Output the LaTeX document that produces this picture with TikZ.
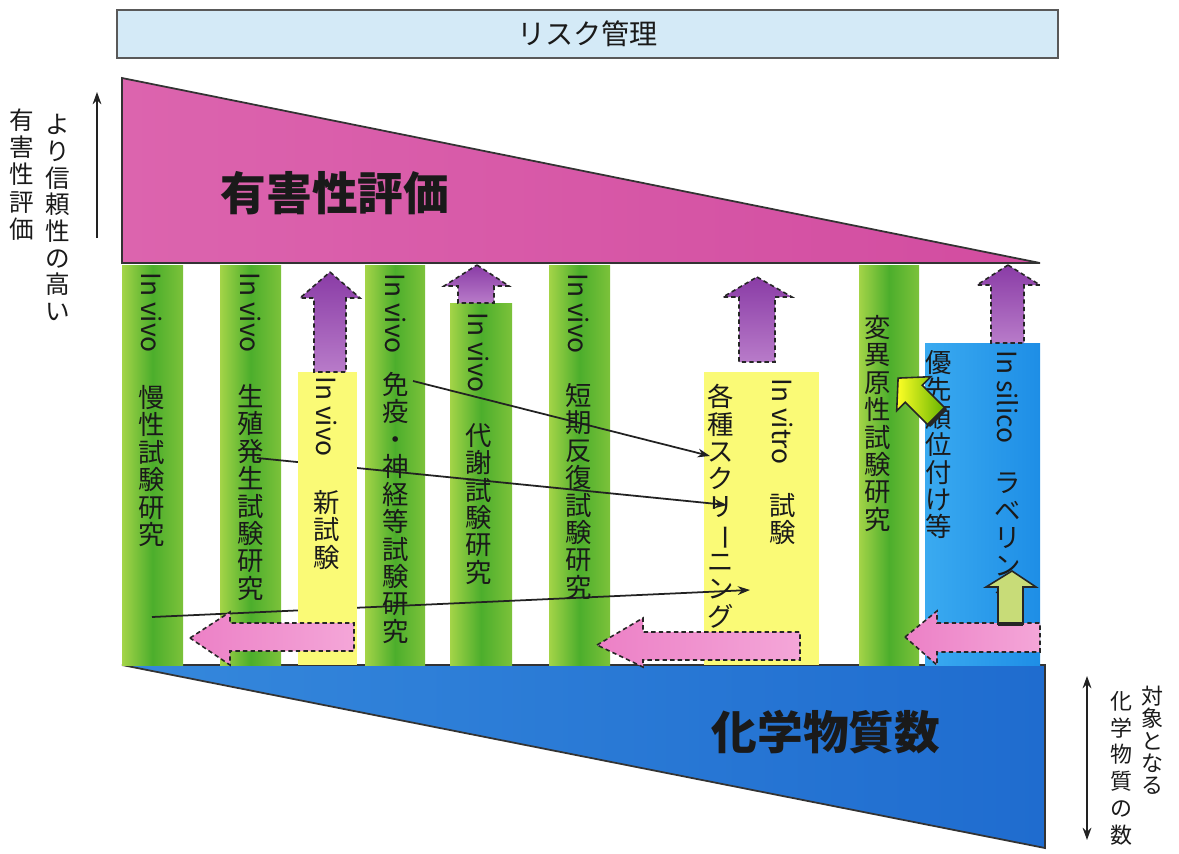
\documentclass[tikz,border=0pt]{standalone}
\usepackage{fontspec}
\usepackage{graphicx}
\setmainfont{Noto Sans CJK JP}
\usetikzlibrary{arrows.meta}
\definecolor{riskfill}{HTML}{D4EAF7}
\definecolor{pinkL}{HTML}{DC64AE}
\definecolor{pinkR}{HTML}{D24CA0}
\definecolor{blueL}{HTML}{3588DC}
\definecolor{blueR}{HTML}{1F6CCF}
\definecolor{gL}{HTML}{A4D448}
\definecolor{gM}{HTML}{4CAE2C}
\definecolor{gR}{HTML}{7CC23A}
\definecolor{yfill}{HTML}{FAFA76}
\definecolor{bcL}{HTML}{3AAAF0}
\definecolor{bcR}{HTML}{1E8EE6}
\definecolor{puT}{HTML}{8A3CA6}
\definecolor{puB}{HTML}{B87BC9}
\definecolor{pkL}{HTML}{EC80C6}
\definecolor{pkR}{HTML}{F4A6D8}
\definecolor{txt}{HTML}{1A1A1A}
\definecolor{lineclr}{HTML}{222222}
\definecolor{smallarr}{HTML}{C8DC78}
\newcommand{\rotbar}{\rotatebox[origin=c]{-90}{ー}}
\newcommand{\tightlines}{\lineskiplimit -30pt\relax}
\begin{document}
\begin{tikzpicture}[x=0.2mm,y=-0.2mm,
  gcol/.style={left color=gL,right color=gR,middle color=gM},
  ycol/.style={fill=yfill},
  bcol/.style={left color=bcL,right color=bcR},
  purplearr/.style={draw=black!85,line width=0.9pt,dash pattern=on 2.5pt off 1.8pt,top color=puT,bottom color=puB},
  pinkarr/.style={draw=black!85,line width=0.9pt,dash pattern=on 2.5pt off 1.8pt,left color=pkL,right color=pkR},
  vtxt/.style={font=\fontsize{15}{15.6}\selectfont\tightlines,align=center,inner sep=0pt,text=txt,anchor=north},
  rtxt/.style={font=\fontsize{15}{15.6}\selectfont,inner sep=0pt,text=txt,rotate=-90,anchor=west},
  sidetxt/.style={align=center,inner sep=0pt,text=txt,anchor=north},
  conn/.style={draw=lineclr,line width=1pt,-{Stealth[length=7pt,width=5pt]}},
  title/.style={font=\fontsize{26}{30}\selectfont\bfseries,text=txt,inner sep=0pt}
]
\useasboundingbox (0,0) rectangle (1179,854);

% risk management box
\node[draw=black!65,line width=0.9pt,fill=riskfill,minimum width=188.2mm,minimum height=9.6mm,inner sep=0pt,
  font=\fontsize{16}{18}\selectfont,text=txt] (risk) at (587.5,34) {リスク管理};

% hazard assessment triangle
\path[draw=black!80,line width=1pt,left color=pinkL,right color=pinkR] (122,78) -- (1040,263) -- (122,263) -- cycle;
\node[title] (hazard) at (335,193) {有害性評価};

% number of chemicals triangle
\path[draw=black!80,line width=1pt,left color=blueL,right color=blueR] (122,665) -- (1045,665) -- (1045,848) -- cycle;
\node[title] (chem) at (826,732) {化学物質数};

% columns
\fill[gcol] (122,265) rectangle (183,665);
\fill[gcol] (220,265) rectangle (281,665);
\fill[gcol] (365,265) rectangle (425,665);
\fill[gcol] (450,303) rectangle (512,665);
\fill[gcol] (549,265) rectangle (610,665);
\fill[gcol] (859,265) rectangle (919,665);
\fill[bcol] (925,343) rectangle (1040,665);
\fill[ycol] (704,372) rectangle (819,665);

% connector end points
\coordinate (s1) at (413,381);
\coordinate (e1) at (710,456);
\coordinate (s2) at (257,458);
\coordinate (e2) at (727,505);
\coordinate (s3) at (152,617);
\coordinate (e3) at (750,590);
\draw[conn] (s1) -- (e1);
\draw[conn] (s2) -- (e2);
\draw[conn] (s3) -- (e3);

% yellow column 3 (covers connectors)
\fill[ycol] (298,372) rectangle (357,665);

% purple up arrows
\path[purplearr] (330,272) -- (360,298) -- (346,298) -- (346,372) -- (314,372) -- (314,298) -- (300,298) -- cycle;
\path[purplearr] (477,265) -- (509,286) -- (494,286) -- (494,303) -- (458,303) -- (458,286) -- (444,286) -- cycle;
\path[purplearr] (757,277) -- (792,297) -- (775,297) -- (775,362) -- (739,362) -- (739,297) -- (723,297) -- cycle;
\path[purplearr] (1008,265) -- (1040,285) -- (1024,285) -- (1024,343) -- (991,343) -- (991,285) -- (977,285) -- cycle;

% pink left arrows
\path[pinkarr] (190,638) -- (230,612) -- (230,623) -- (354,623) -- (354,651) -- (230,651) -- (230,665) -- cycle;
\path[pinkarr] (597,645) -- (643,618) -- (643,632) -- (800,632) -- (800,660) -- (643,660) -- (643,667) -- cycle;
\path[pinkarr] (905,637) -- (937,611) -- (937,623) -- (1040,623) -- (1040,652) -- (937,652) -- (937,665) -- cycle;

% column texts
\node[rtxt] (c1a) at (152,272) {In vivo};
\node[vtxt] (c1b) at (152,385) {慢\\性\\試\\験\\研\\究};
\node[rtxt] (c2a) at (251,272) {In vivo};
\node[vtxt] (c2b) at (251,384) {生\\殖\\発\\生\\試\\験\\研\\究};
\node[rtxt] (c3a) at (327,376) {In vivo};
\node[vtxt] (c3b) at (327,490) {新\\試\\験};
\node[rtxt] (c4a) at (396,273) {In vivo};
\node[vtxt] (c4b) at (396,372) {免\\疫\\・\\神\\経\\等\\試\\験\\研\\究};
\node[rtxt] (c5a) at (479,312) {In vivo};
\node[vtxt] (c5b) at (479,423) {代\\謝\\試\\験\\研\\究};
\node[rtxt] (c6a) at (579,273) {In vivo};
\node[vtxt] (c6b) at (579,383) {短\\期\\反\\復\\試\\験\\研\\究};
\node[vtxt] (c7a) at (721,384) {各\\種\\ス\\ク\\リ\\\rotbar\\ニ\\ン\\グ};
\node[rtxt] (c7b) at (783,378) {In vitro};
\node[vtxt] (c7c) at (783,493) {試\\験};
\node[vtxt] (c8a) at (878,315) {変\\異\\原\\性\\試\\験\\研\\究};
\node[vtxt] (c9a) at (939,350) {優\\先\\順\\位\\付\\け\\等};
\node[rtxt] (c9b) at (1008,350) {In silico};
\node[vtxt] (c9c) at (1008,473) {ラ\\ベ\\リ\\ン\\グ};

% yellow diagonal arrow
\path[draw=black!85,line width=0.9pt,left color=yellow!85!white,right color=green!45!yellow!70!black]
  (945.5,408.5) -- (922.2,385.2) -- (930.7,376.7) -- (898.1,378.1) -- (896.7,410.7) -- (905.2,402.2) -- (928.5,425.5) -- cycle;
\draw[black!85,line width=2.5pt] (945.5,408.5) -- (928.5,425.5);

% small up arrow in blue column
\path[draw=black!85,line width=0.9pt,fill=smallarr] (1012,571) -- (1036,587) -- (1023,587) -- (1023,624) -- (998,624) -- (998,587) -- (986,587) -- cycle;
\draw[black!85,line width=2.5pt] (998,624) -- (1023,624);

% left axis
\coordinate (la0) at (97,238);
\coordinate (la1) at (97,92);
\draw[lineclr,line width=1pt,-{Stealth[length=7pt,width=5pt]}] (la0) -- (la1);
\node[sidetxt,font=\fontsize{14}{15.2}\selectfont\tightlines] (lt1) at (58,114) {よ\\り\\信\\頼\\性\\の\\高\\い};
\node[sidetxt,font=\fontsize{14}{15.6}\selectfont\tightlines] (lt2) at (22,108) {有\\害\\性\\評\\価};

% right axis
\coordinate (ra0) at (1087,676);
\coordinate (ra1) at (1087,840);
\draw[lineclr,line width=1pt,{Stealth[length=7pt,width=5pt]}-{Stealth[length=7pt,width=5pt]}] (ra0) -- (ra1);
\node[sidetxt,font=\fontsize{12.5}{12.6}\selectfont\tightlines] (rt1) at (1152,686) {対\\象\\と\\な\\る};
\node[sidetxt,font=\fontsize{12.5}{15.2}\selectfont\tightlines] (rt2) at (1121,691) {化\\学\\物\\質\\の\\数};
\end{tikzpicture}
\end{document}
